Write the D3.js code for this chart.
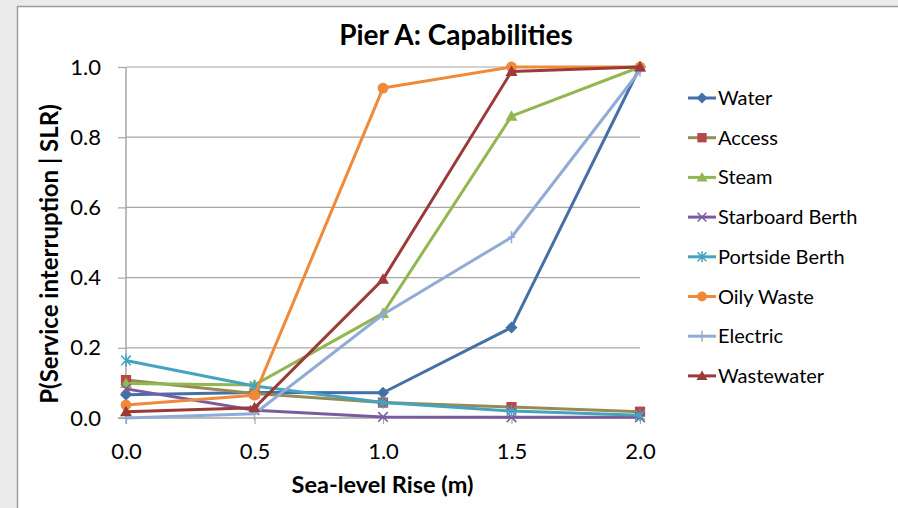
<!DOCTYPE html>
<html>
<head>
<meta charset="utf-8">
<script src="https://cdn.jsdelivr.net/npm/d3@7/dist/d3.min.js"></script>
<style>
  html, body { margin: 0; padding: 0; background: #ebebeb; }
  svg { display: block; font-family: Lato, "Open Sans", "Liberation Sans", sans-serif; }
</style>
</head>
<body>
<svg id="chart" width="898" height="508"></svg>
<script>
// Sea-level rise steps (m)
const rise = [0.0, 0.5, 1.0, 1.5, 2.0];
const xTickLabels = ["0.0", "0.5", "1.0", "1.5", "2.0"];
const yTicks = [0.0, 0.2, 0.4, 0.6, 0.8, 1.0];

// Probability of service interruption for each capability
const water         = [0.066, 0.073, 0.072, 0.258, 1.000];
const access        = [0.108, 0.070, 0.044, 0.031, 0.018];
const steam         = [0.098, 0.094, 0.298, 0.860, 1.000];
const starboard     = [0.083, 0.022, 0.003, 0.002, 0.002];
const portside      = [0.164, 0.091, 0.044, 0.020, 0.008];
const oilyWaste     = [0.037, 0.065, 0.940, 1.000, 1.000];
const electric      = [0.000, 0.012, 0.295, 0.515, 0.990];
const wastewater    = [0.018, 0.029, 0.395, 0.987, 1.000];

const seriesNames = ["Water", "Access", "Steam", "Starboard Berth", "Portside Berth", "Oily Waste", "Electric", "Wastewater"];
const seriesValues = [water, access, steam, starboard, portside, oilyWaste, electric, wastewater];
const lineColors   = ["#4470A8", "#958B57", "#92B650", "#7A5C9E", "#45A3BE", "#EE8A3A", "#90ACD6", "#9C3A38"];
const markerColors = ["#4470A8", "#B8474A", "#92B650", "#7A5C9E", "#45A3BE", "#EE8A3A", "#90ACD6", "#9C3A38"];
const markerShapes = ["diamond", "square", "triangle", "x", "asterisk", "circle", "plus", "triangle"];

const svg = d3.select("#chart");

// Chart frame
svg.append("rect")
  .attr("x", 17.5).attr("y", 6.5)
  .attr("width", 900).attr("height", 520)
  .attr("fill", "#ffffff")
  .attr("stroke", "#9c9c9c")
  .attr("stroke-width", 1.5);

const plot = { left: 126, right: 640, top: 67, bottom: 418 };

const x = d3.scaleLinear().domain([0, 2]).range([plot.left, plot.right]);
const y = d3.scaleLinear().domain([0, 1]).range([plot.bottom, plot.top]);

// Horizontal gridlines
svg.append("g")
  .selectAll("line")
  .data(yTicks.filter(d => d > 0))
  .join("line")
  .attr("x1", plot.left).attr("x2", plot.right)
  .attr("y1", d => y(d)).attr("y2", d => y(d))
  .attr("stroke", "#a6a6a6").attr("stroke-width", 1.2);

// Y axis
const yAxis = d3.axisLeft(y)
  .tickValues(yTicks)
  .tickFormat(d3.format(".1f"))
  .tickSize(8)
  .tickPadding(17);
const gy = svg.append("g").attr("transform", `translate(${plot.left},0)`).call(yAxis);
gy.select(".domain").attr("stroke", "#a6a6a6").attr("stroke-width", 1.5).attr("d", `M0,${plot.top}V${plot.bottom}`);
gy.selectAll(".tick line").attr("stroke", "#a6a6a6").attr("stroke-width", 1.2);
gy.selectAll(".tick text").attr("font-size", 22).attr("fill", "#000").attr("font-family", "Lato, sans-serif");

// X axis
const xAxis = d3.axisBottom(x)
  .tickValues(rise)
  .tickFormat((d, i) => xTickLabels[i])
  .tickSize(6)
  .tickPadding(19);
const gx = svg.append("g").attr("transform", `translate(0,${plot.bottom})`).call(xAxis);
gx.select(".domain").attr("stroke", "#a6a6a6").attr("stroke-width", 1.5).attr("d", `M${plot.left - 8},0H${plot.right}`);
gx.selectAll(".tick line").attr("stroke", "#a6a6a6").attr("stroke-width", 1.2);
gx.selectAll(".tick text").attr("font-size", 22).attr("fill", "#000").attr("font-family", "Lato, sans-serif");

// Marker drawing
function drawMarker(g, shape, cx, cy, color, s) {
  const r = s;
  if (shape === "diamond") {
    g.append("path").attr("d", `M${cx},${cy - r}L${cx + r},${cy}L${cx},${cy + r}L${cx - r},${cy}Z`).attr("fill", color);
  } else if (shape === "square") {
    g.append("rect").attr("x", cx - r * 0.85).attr("y", cy - r * 0.85).attr("width", r * 1.7).attr("height", r * 1.7).attr("fill", color);
  } else if (shape === "triangle") {
    g.append("path").attr("d", `M${cx},${cy - r}L${cx + r},${cy + r * 0.75}L${cx - r},${cy + r * 0.75}Z`).attr("fill", color);
  } else if (shape === "circle") {
    g.append("circle").attr("cx", cx).attr("cy", cy).attr("r", r * 0.9).attr("fill", color);
  } else if (shape === "x") {
    const k = r * 0.8;
    g.append("path").attr("d", `M${cx - k},${cy - k}L${cx + k},${cy + k}M${cx - k},${cy + k}L${cx + k},${cy - k}`)
      .attr("stroke", color).attr("stroke-width", 1.5);
  } else if (shape === "asterisk") {
    const k = r * 0.8;
    g.append("path").attr("d", `M${cx - k},${cy - k}L${cx + k},${cy + k}M${cx - k},${cy + k}L${cx + k},${cy - k}M${cx},${cy - r}L${cx},${cy + r}`)
      .attr("stroke", color).attr("stroke-width", 1.5);
  } else if (shape === "plus") {
    g.append("path").attr("d", `M${cx},${cy - r}L${cx},${cy + r}M${cx - r * 0.6},${cy}L${cx + r * 0.6},${cy}`)
      .attr("stroke", color).attr("stroke-width", 1.5);
  }
}

// Series lines and markers
const line = d3.line().x((d, i) => x(rise[i])).y(d => y(d));
const seriesG = svg.append("g");
seriesValues.forEach((vals, si) => {
  const g = seriesG.append("g");
  g.append("path")
    .attr("d", line(vals))
    .attr("fill", "none")
    .attr("stroke", lineColors[si])
    .attr("stroke-width", 3)
    .attr("stroke-linejoin", "round");
  vals.forEach((v, i) => drawMarker(g, markerShapes[si], x(rise[i]), y(v), markerColors[si], 6));
});

// Title
svg.append("text")
  .attr("x", 456).attr("y", 45)
  .attr("text-anchor", "middle")
  .attr("font-size", 28).attr("font-weight", "bold")
  .text("Pier A: Capabilities");

// Axis titles
svg.append("text")
  .attr("transform", "translate(58,254) rotate(-90)")
  .attr("text-anchor", "middle")
  .attr("font-size", 24).attr("font-weight", "bold")
  .text("P(Service interruption | SLR)");

svg.append("text")
  .attr("x", 382.5).attr("y", 493)
  .attr("text-anchor", "middle")
  .attr("font-size", 23.5).attr("font-weight", "bold")
  .text("Sea-level Rise (m)");

// Legend
const legend = svg.append("g");
seriesNames.forEach((name, i) => {
  const ly = 98 + i * 39.7;
  const g = legend.append("g");
  g.append("line").attr("x1", 688).attr("x2", 716).attr("y1", ly).attr("y2", ly)
    .attr("stroke", lineColors[i]).attr("stroke-width", 3);
  drawMarker(g, markerShapes[i], 702, ly, markerColors[i], 5.5);
  g.append("text").attr("x", 718).attr("y", ly + 7)
    .attr("font-size", 20).attr("fill", "#000")
    .text(name);
});
</script>
</body>
</html>
